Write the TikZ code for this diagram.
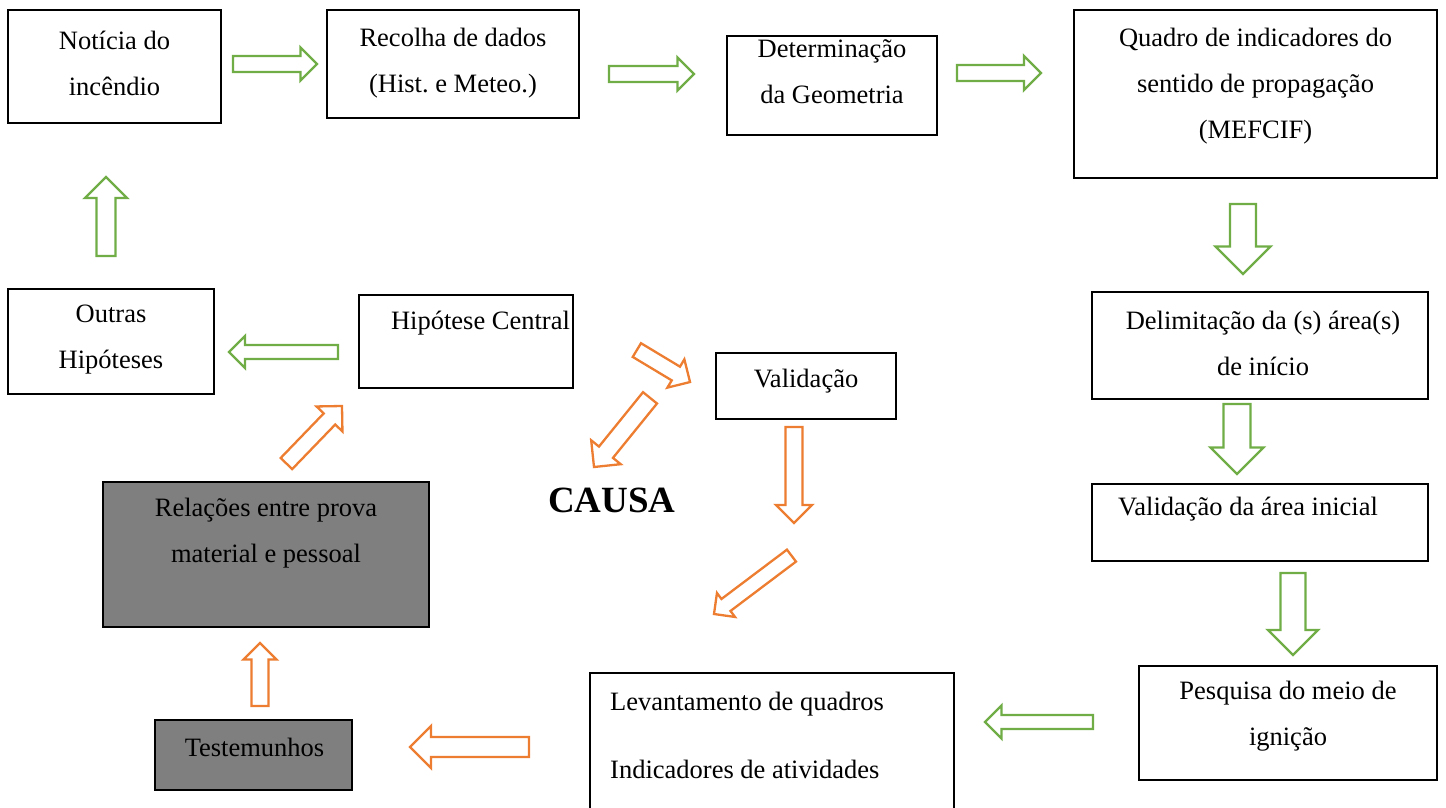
\documentclass[tikz,border=0pt]{standalone}
\usepackage{fontspec}
\setmainfont{Liberation Serif}
\frenchspacing
\definecolor{grn}{HTML}{70AD47}
\definecolor{org}{HTML}{ED7D31}
\definecolor{boxgray}{HTML}{7F7F7F}
% block arrow: #1 colour, #2 tip point, #3 angle, #4 length, #5 head width, #6 shaft width
\newcommand\blockarr[6]{%
  \pgfmathsetmacro\bhl{#5/2}%
  \pgfmathsetmacro\bhw{#5/2}%
  \pgfmathsetmacro\bsw{#6/2}%
  \draw[barrow=#1, shift={#2}, rotate=#3]
    (0,0) -- (-\bhl,\bhw) -- (-\bhl,\bsw) -- (-#4,\bsw) -- (-#4,-\bsw)
    -- (-\bhl,-\bsw) -- (-\bhl,-\bhw) -- cycle;}
\begin{document}
\begin{tikzpicture}[x=1pt,y=-1pt,
  box/.style={draw=black, line width=1.4pt, inner sep=0pt, outer sep=0pt},
  graybox/.style={box, fill=boxgray},
  txt/.style={font=\fontsize{26.5}{46}\selectfont, align=center, inner sep=0pt},
  barrow/.style={draw=#1, line width=2.3pt, fill=white, line join=miter},
]
\path[use as bounding box] (0,0) rectangle (1446,807);
\clip (0,0) rectangle (1446,807);

% boxes
\node[box, minimum width=213, minimum height=113] (b1) at (114.5,66.5) {};
\node[box, minimum width=252, minimum height=108] (b2) at (453,64) {};
\node[box, minimum width=210, minimum height=99] (b3) at (832,85.5) {};
\node[box, minimum width=363, minimum height=168] (b4) at (1255.5,94) {};
\node[box, minimum width=336, minimum height=107] (b5) at (1260,345.5) {};
\node[box, minimum width=336, minimum height=77] (b6) at (1260,522.5) {};
\node[box, minimum width=298, minimum height=114] (b7) at (1288,723) {};
\node[box, minimum width=364, minimum height=139] (b8) at (772,742.5) {};
\node[graybox, minimum width=197, minimum height=70] (b9) at (253.5,755) {};
\node[graybox, minimum width=326, minimum height=145] (b10) at (266,554.5) {};
\node[box, minimum width=206, minimum height=105] (b11) at (111,341.5) {};
\node[box, minimum width=214, minimum height=93] (b12) at (466,341.5) {};
\node[box, minimum width=180, minimum height=66] (b13) at (806,386) {};

% texts
\node[txt] (t1) at (114.5,63) {Notícia do\\incêndio};
\node[txt] (t2) at (453,63) {Recolha de dados\\(Hist. e Meteo.)};
\node[txt] (t3) at (832,71.5) {Determinação\\da Geometria};
\node[txt] (t4) at (1255.5,86) {Quadro de indicadores do\\sentido de propagação\\(MEFCIF)};
\node[txt] (t5) at (1263,343) {Delimitação da (s) área(s)\\de início};
\node[txt] (t6) at (1248,509) {Validação da área inicial};
\node[txt] (t7) at (1288,716) {Pesquisa do meio de\\ignição};
\node[txt, align=left, anchor=west] (t8) at (610,735) {Levantamento de quadros\\[22pt]Indicadores de atividades};
\node[txt] (t9) at (254.5,747) {Testemunhos};
\node[txt] (t10) at (266,533) {Relações entre prova\\material e pessoal};
\node[txt] (t11) at (111,340) {Outras\\Hipóteses};
\node[txt] (t12) at (480.5,323) {Hipótese Central};
\node[txt] (t13) at (806,381) {Validação};
\node[font=\fontsize{37}{40}\selectfont\bfseries, inner sep=0pt] (causa) at (612,500) {CAUSA};

% green block arrows
\blockarr{grn}{(317,64)}{0}{84}{33}{16}
\blockarr{grn}{(694,74)}{0}{85}{33}{16}
\blockarr{grn}{(1041,73)}{0}{84}{34}{16}
\blockarr{grn}{(1243,274)}{-90}{70}{55}{26}
\blockarr{grn}{(1237,474)}{-90}{70}{53}{27}
\blockarr{grn}{(1293,655)}{-90}{82}{50}{25}
\blockarr{grn}{(985,722)}{180}{108}{33}{14}
\blockarr{grn}{(229,352)}{180}{109}{32}{14}
\blockarr{grn}{(106,177)}{90}{79}{42}{19}

% orange block arrows
\blockarr{org}{(410,747)}{180}{119}{42}{20}
\blockarr{org}{(260,643)}{90}{63}{33}{17}
\blockarr{org}{(342,406)}{46}{80}{36}{16}
\blockarr{org}{(690,382)}{-31}{62}{33}{16}
\blockarr{org}{(594,467)}{231}{89}{38}{18}
\blockarr{org}{(794,523)}{-90}{96}{36}{17}
\blockarr{org}{(714,614)}{217}{97}{30}{15}
\end{tikzpicture}
\end{document}
